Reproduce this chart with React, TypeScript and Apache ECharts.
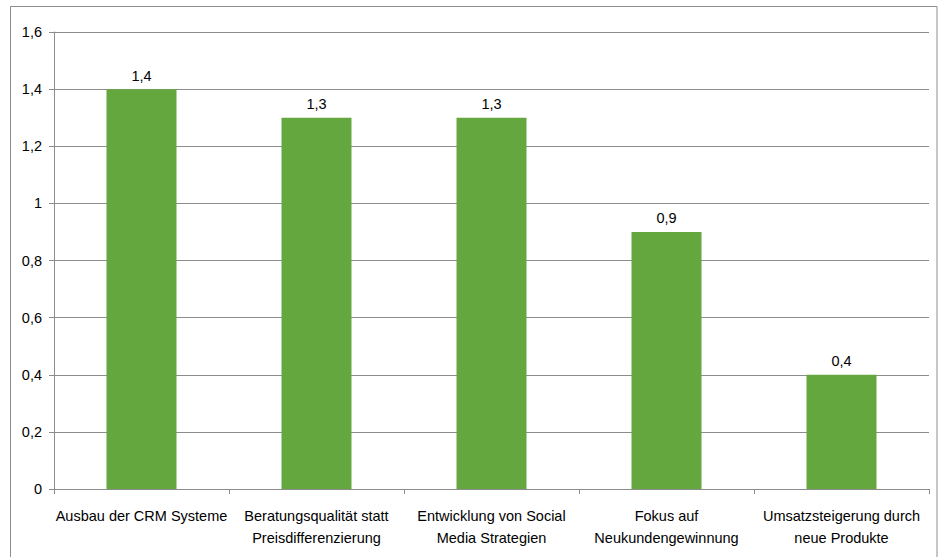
import React, { useEffect, useRef } from "react";
import * as echarts from "echarts";

const categories = [
  "Ausbau der CRM Systeme",
  "Beratungsqualität statt\nPreisdifferenzierung",
  "Entwicklung von Social\nMedia Strategien",
  "Fokus auf\nNeukundengewinnung",
  "Umsatzsteigerung durch\nneue Produkte",
];
const values = [1.4, 1.3, 1.3, 0.9, 0.4];

const fmt = (v: number) => (Math.round(v * 10) / 10).toString().replace(".", ",");

export default function App() {
  const ref = useRef<HTMLDivElement>(null);
  useEffect(() => {
    document.body.style.margin = "0";
    const chart = echarts.init(ref.current!, null, { renderer: "svg" });
    chart.setOption({
      animation: false,
      backgroundColor: "#ffffff",
      textStyle: { fontFamily: "Liberation Sans, Arial, sans-serif" },
      grid: { left: 54, right: 12, top: 32, bottom: 68, containLabel: false },
      graphic: [
        {
          type: "rect",
          shape: { x: 10.5, y: 6.5, width: 926.5, height: 560 },
          style: { fill: "none", stroke: "#8c8c8c", lineWidth: 1 },
          silent: true,
        },
      ],
      xAxis: {
        type: "category",
        data: categories,
        axisLine: { lineStyle: { color: "#8c8c8c", width: 1 } },
        axisTick: { show: true, alignWithLabel: false, interval: 0, length: 5, lineStyle: { color: "#8c8c8c" } },
        axisLabel: {
          interval: 0,
          color: "#000",
          fontSize: 14.5,
          lineHeight: 22,
          margin: 16,
          fontFamily: "Liberation Sans, Arial, sans-serif",
        },
      },
      yAxis: {
        type: "value",
        min: 0,
        max: 1.6,
        interval: 0.2,
        axisLine: { show: true, lineStyle: { color: "#8c8c8c", width: 1 } },
        axisTick: { show: true, length: 5, lineStyle: { color: "#8c8c8c" } },
        splitLine: { show: true, lineStyle: { color: "#8c8c8c", width: 1 } },
        axisLabel: {
          color: "#000",
          fontSize: 14.5,
          margin: 12,
          formatter: (v: number) => fmt(v),
          fontFamily: "Liberation Sans, Arial, sans-serif",
        },
      },
      series: [
        {
          type: "bar",
          data: values,
          barCategoryGap: "60%",
          itemStyle: { color: "#64a73e" },
          label: {
            show: true,
            position: "top",
            distance: 6,
            color: "#000",
            fontSize: 14.5,
            formatter: (p: any) => fmt(p.value),
            fontFamily: "Liberation Sans, Arial, sans-serif",
          },
        },
      ],
    });
    return () => chart.dispose();
  }, []);
  return <div ref={ref} style={{ width: 941, height: 557 }} />;
}
